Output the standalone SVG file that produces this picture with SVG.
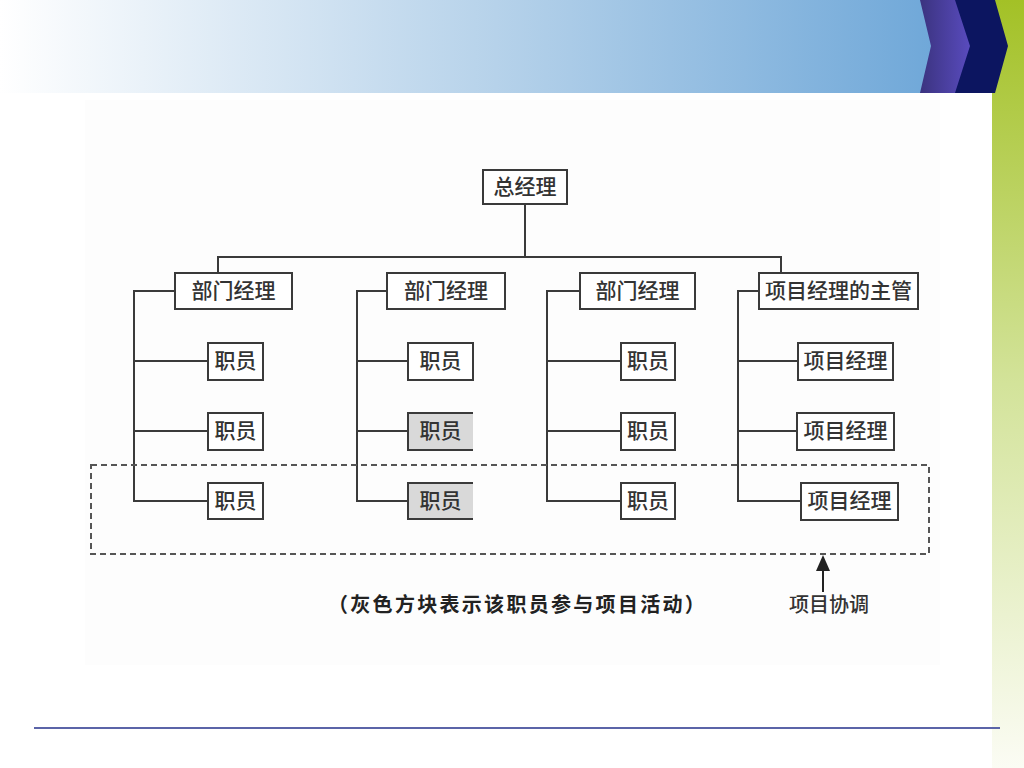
<svg xmlns="http://www.w3.org/2000/svg" width="1024" height="768" viewBox="0 0 1024 768">
<defs>
<linearGradient id="hdr" x1="0" y1="0" x2="1" y2="0">
<stop offset="0" stop-color="#ffffff"/>
<stop offset="0.5" stop-color="#b6d2ea"/>
<stop offset="1" stop-color="#66a2d6"/>
</linearGradient>
<linearGradient id="pur" x1="0" y1="0" x2="1" y2="0">
<stop offset="0" stop-color="#3b337f"/>
<stop offset="1" stop-color="#5a4cc0"/>
</linearGradient>
<linearGradient id="grn" x1="0" y1="0" x2="0" y2="1">
<stop offset="0" stop-color="#a3c126"/>
<stop offset="0.5" stop-color="#d3e39a"/>
<stop offset="1" stop-color="#fbfcf4"/>
</linearGradient>
<style>
.box{fill:#ffffff;stroke:#3a3a3a;stroke-width:2}
.gray{fill:#d9d9d9}
.t{font-family:"Noto Sans CJK SC","Noto Sans",sans-serif;font-size:21px;font-weight:500;fill:#333;text-anchor:middle}
.ln{fill:none;stroke:#3a3a3a;stroke-width:2}
</style>
</defs>
<rect width="1024" height="768" fill="#ffffff"/>
<rect x="0" y="0" width="992" height="93" fill="url(#hdr)"/>
<rect x="992" y="0" width="32" height="768" fill="url(#grn)"/>
<polygon points="920,0 957,0 972,46 957,93 920,93 931,46" fill="url(#pur)"/>
<polygon points="955,0 995,0 1008,46 995,93 955,93 970,46" fill="#0c1560"/>
<rect x="85" y="100" width="855" height="565" fill="#fdfdfd"/>
<line x1="34" y1="728" x2="1000" y2="728" stroke="#5b64a8" stroke-width="2"/>

<g id="connectors">
<path class="ln" d="M525,204 V257 M218,273 V257 H781 V273"/>
<path class="ln" d="M175,291 H134 V501 H208 M134,361 H208 M134,431 H208"/>
<path class="ln" d="M387,291 H357 V501 H408 M357,361 H408 M357,431 H408"/>
<path class="ln" d="M580,291 H547 V501 H621 M547,361 H621 M547,431 H621"/>
<path class="ln" d="M759,291 H738 V501 H801 M738,361 H798 M738,431 H797"/>
<line x1="823" y1="592" x2="823" y2="566" stroke="#222" stroke-width="2"/>
<polygon points="823,555 816,571 830,571" fill="#222"/>
</g>

<g id="coord-box">
<rect x="91" y="465" width="838" height="89" fill="none" stroke="#555" stroke-width="2" stroke-dasharray="6 4"/>
</g>

<g id="root"><rect class="box" x="483" y="170" width="84" height="34"/><text class="t" x="525" y="194">总经理</text></g>

<g id="a0"><rect class="box" x="175" y="273" width="117" height="36"/><text class="t" x="233.5" y="298">部门经理</text></g>
<g id="b0"><rect class="box" x="387" y="273" width="118" height="36"/><text class="t" x="446" y="298">部门经理</text></g>
<g id="c0"><rect class="box" x="580" y="273" width="115" height="36"/><text class="t" x="637.5" y="298">部门经理</text></g>
<g id="d0"><rect class="box" x="759" y="273" width="159" height="36"/><text class="t" x="838.5" y="298">项目经理的主管</text></g>

<g id="a1"><rect class="box" x="208" y="343" width="55" height="37"/><text class="t" x="235.5" y="368">职员</text></g>
<g id="a2"><rect class="box" x="208" y="413" width="55" height="37"/><text class="t" x="235.5" y="438">职员</text></g>
<g id="a3"><rect class="box" x="208" y="483" width="55" height="36"/><text class="t" x="235.5" y="508">职员</text></g>

<g id="b1"><rect class="box" x="408" y="343" width="65" height="37"/><text class="t" x="440.5" y="368">职员</text></g>
<g id="b2"><rect class="gray" x="408" y="413" width="65" height="37"/><path class="ln" d="M473,413 H408 V450 H473"/><text class="t" x="440.5" y="438">职员</text></g>
<g id="b3"><rect class="gray" x="408" y="483" width="65" height="36"/><path class="ln" d="M473,483 H408 V519 H473"/><text class="t" x="440.5" y="508">职员</text></g>

<g id="c1"><rect class="box" x="621" y="343" width="54" height="37"/><text class="t" x="648" y="368">职员</text></g>
<g id="c2"><rect class="box" x="621" y="413" width="54" height="37"/><text class="t" x="648" y="438">职员</text></g>
<g id="c3"><rect class="box" x="621" y="483" width="54" height="36"/><text class="t" x="648" y="508">职员</text></g>

<g id="d1"><rect class="box" x="798" y="343" width="95" height="37"/><text class="t" x="845.5" y="368">项目经理</text></g>
<g id="d2"><rect class="box" x="797" y="413" width="97" height="37"/><text class="t" x="845.5" y="438">项目经理</text></g>
<g id="d3"><rect class="box" x="801" y="483" width="97" height="37"/><text class="t" x="849.5" y="508">项目经理</text></g>

<g id="labels">
<text x="328" y="612" font-family="'Noto Sans CJK SC','Noto Sans',sans-serif" font-size="20" font-weight="bold" fill="#222" letter-spacing="2.3">（灰色方块表示该职员参与项目活动）</text>
<text x="829" y="612" font-family="'Noto Sans CJK SC','Noto Sans',sans-serif" font-size="20" font-weight="500" fill="#333" text-anchor="middle">项目协调</text>
</g>
</svg>
